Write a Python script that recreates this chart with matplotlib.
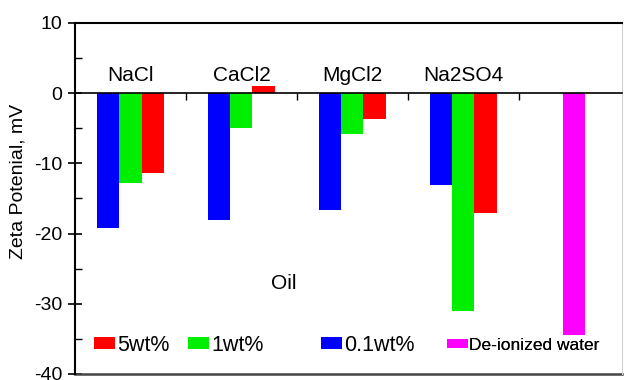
import matplotlib
matplotlib.use('Agg')
import matplotlib.pyplot as plt
import numpy as np

plt.rcParams.update({'font.family': 'Liberation Sans',
                     'axes.unicode_minus': False,
                     'font.size': 14})

# zeta potential of oil droplets, mV
salts = ['NaCl', 'CaCl2', 'MgCl2', 'Na2SO4']
wt01 = [-19.2, -18.1, -16.6, -13.1]   # 0.1 wt%
wt1 = [-12.8, -4.9, -5.8, -31.0]      # 1 wt%
wt5 = [-11.4, 1.0, -3.7, -17.1]       # 5 wt%
di_water = [-34.5]
yticks = [-40, -30, -20, -10, 0, 10]

fig = plt.figure(figsize=(6.25, 3.8), dpi=100)
ax = fig.add_axes([0.12, 0.0158, 0.875, 0.9237])

x = np.arange(1, len(salts) + 1)
w = 0.2
b01 = ax.bar(x - w, wt01, w, color='#0000ff')
b1 = ax.bar(x, wt1, w, color='#00ee00')
b5 = ax.bar(x + w, wt5, w, color='#ff0000')
bdi = ax.bar([len(salts) + 1], di_water, w, color='#ff00ff')

for xi, name in zip(x, salts):
    ax.text(xi, 1.7, name, ha='center', va='baseline', fontsize=15)
ax.text(2.38, -27.9, 'Oil', ha='center', va='baseline', fontsize=15)

ax.set_xlim(0.5, 5.43)
ax.set_ylim(-40, 10)
ax.set_yticks(yticks)
ax.set_yticks(np.arange(-35, 10, 10), minor=True)
ax.set_xticks(np.arange(1.5, 5, 1))
ax.set_xticklabels([])
ax.tick_params(axis='y', which='major', direction='inout', length=10, width=1.2, pad=4, labelsize=14)
ax.tick_params(axis='y', which='minor', direction='in', length=5, width=1)
ax.tick_params(axis='x', direction='out', length=5, width=1)

ax.spines['bottom'].set_position(('data', 0))
ax.spines['bottom'].set_linewidth(1.2)
ax.spines['left'].set_linewidth(1.5)
ax.spines['top'].set_linewidth(1.5)
ax.spines['right'].set_color('#d0d0d0')
ax.axhline(-40, color='#444444', lw=1.8, clip_on=False)

ax.set_ylabel('Zeta Potenial, mV', fontsize=14)
ax.yaxis.set_label_coords(-0.088, 0.548)

# one small legend per entry, spaced like the original
entries = [(b5, '5wt%', 0.671, 15.5), (b1, '1wt%', 1.518, 15.5),
           (b01, '0.1wt%', 2.716, 15.5), (bdi, 'De-ionized water', 3.851, 12.5)]
for handle, label, xpos, fs in entries:
    leg = ax.legend([handle], [label], loc='center left',
                    bbox_to_anchor=(xpos, -35.9), bbox_transform=ax.transData,
                    frameon=False, fontsize=fs, borderpad=0, borderaxespad=0,
                    handlelength=21 / (fs * 100 / 72), handleheight=0.5,
                    handletextpad=0.1)
    ax.add_artist(leg)

fig.savefig('out.png', dpi=100)
